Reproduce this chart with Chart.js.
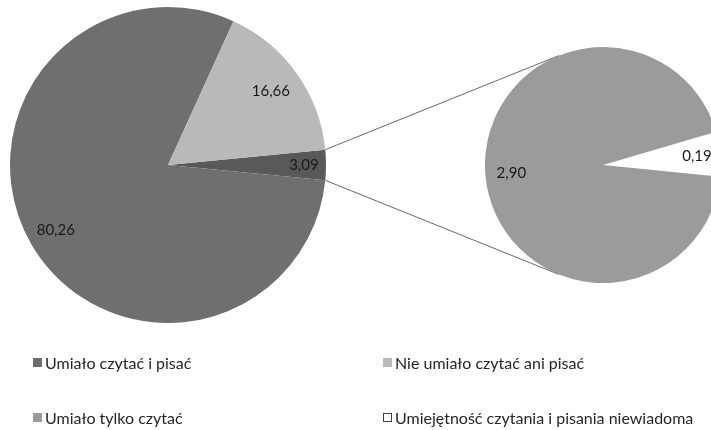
<!DOCTYPE html>
<html>
<head>
<meta charset="utf-8">
<script src="https://cdn.jsdelivr.net/npm/chart.js@4.4.1/dist/chart.umd.min.js"></script>
<style>
  html, body { margin: 0; padding: 0; background: #fff; }
  #wrap { position: relative; width: 711px; height: 430px; overflow: hidden; }
  #main { position: absolute; left: 0; top: 0; }
  #sub { position: absolute; left: 485px; top: 47px; }
  .leg { position: absolute; font: 16px Lato, "Open Sans", sans-serif; line-height: 20px; color: #262626; white-space: nowrap; }
  .leg i { position: absolute; top: 5px; width: 9px; height: 9px; box-sizing: border-box; }
</style>
</head>
<body>
<div id="wrap">
  <canvas id="main" width="711" height="430"></canvas>
  <canvas id="sub" width="236" height="236"></canvas>
  <div id="legend"></div>
</div>
<script>
// main pie: "other" slice first, then the two big ones (clockwise)
const mainLabels = ['Pozostałe', 'Umiało czytać i pisać', 'Nie umiało czytać ani pisać'];
const mainValues = [3.09, 80.26, 16.66];
const mainColors = ['#58595b', '#6d6f71', '#b8bab9'];

// second pie: breakdown of the 3,09 slice
const subLabels = ['Umiejętność czytania i pisania niewiadoma', 'Umiało tylko czytać'];
const subValues = [0.19, 2.90];
const subColors = ['#ffffff', '#999b9c'];

const legendItems = [
  { text: 'Umiało czytać i pisać', color: '#6d6f71', x: 45, y: 353 },
  { text: 'Nie umiało czytać ani pisać', color: '#b8bab9', x: 395, y: 353 },
  { text: 'Umiało tylko czytać', color: '#999b9c', x: 45, y: 408 },
  { text: 'Umiejętność czytania i pisania niewiadoma', color: '#ffffff', x: 395, y: 408 }
];

const fmt = v => v.toFixed(2).replace('.', ',');

// value labels inside slices
const sliceLabels = {
  id: 'sliceLabels',
  afterDatasetsDraw(chart, args, opts) {
    const c = chart.ctx;
    const meta = chart.getDatasetMeta(0);
    c.save();
    c.font = '15px Lato, "Open Sans", sans-serif';
    c.fillStyle = '#1a1a1a';
    c.textAlign = 'center';
    c.textBaseline = 'middle';
    meta.data.forEach((arc, i) => {
      const mid = (arc.startAngle + arc.endAngle) / 2;
      const r = arc.outerRadius * opts.frac[i];
      c.fillText(fmt(chart.data.datasets[0].data[i]), arc.x + Math.cos(mid) * r, arc.y + Math.sin(mid) * r);
    });
    c.restore();
  }
};

function pieOpts(rotation, padding, frac) {
  return {
    responsive: false,
    animation: false,
    rotation: rotation,
    layout: { padding: padding },
    plugins: {
      legend: { display: false },
      tooltip: { enabled: false },
      sliceLabels: { frac: frac }
    }
  };
}

const subTotal = subValues.reduce((s, v) => s + v, 0);
const subChart = new Chart(document.getElementById('sub'), {
  type: 'pie',
  data: { labels: subLabels, datasets: [{ data: subValues, backgroundColor: subColors, borderWidth: 0 }] },
  options: pieOpts(84.7 - subValues[0] / subTotal * 180, 0, [0.8, 0.78]),
  plugins: [sliceLabels]
});

// lines from the small slice to tangents of the second pie
const connectors = {
  id: 'connectors',
  afterDatasetsDraw(chart) {
    const arc = chart.getDatasetMeta(0).data[0];
    const sArc = subChart.getDatasetMeta(0).data[0];
    const sub = document.getElementById('sub');
    const cx = sub.offsetLeft + sArc.x, cy = sub.offsetTop + sArc.y, R = sArc.outerRadius;
    const c = chart.ctx;
    c.save();
    c.strokeStyle = '#404040';
    c.lineWidth = 0.8;
    [[arc.startAngle, -1], [arc.endAngle, 1]].forEach(([a, side]) => {
      const px = arc.x + Math.cos(a) * arc.outerRadius;
      const py = arc.y + Math.sin(a) * arc.outerRadius;
      const dx = px - cx, dy = py - cy;
      const d = Math.hypot(dx, dy);
      const t = Math.atan2(dy, dx) - side * Math.acos(R / d);
      c.beginPath();
      c.moveTo(px, py);
      c.lineTo(cx + Math.cos(t) * R, cy + Math.sin(t) * R);
      c.stroke();
    });
    c.restore();
  }
};

const mainTotal = mainValues.reduce((s, v) => s + v, 0);
new Chart(document.getElementById('main'), {
  type: 'pie',
  data: { labels: mainLabels, datasets: [{ data: mainValues, backgroundColor: mainColors, borderWidth: 0 }] },
  options: pieOpts(90 - mainValues[0] / mainTotal * 180, { left: 10, top: 7, right: 385, bottom: 107 }, [0.86, 0.82, 0.8]),
  plugins: [sliceLabels, connectors]
});

const leg = document.getElementById('legend');
legendItems.forEach(it => {
  const d = document.createElement('div');
  d.className = 'leg';
  d.style.left = it.x + 'px';
  d.style.top = it.y + 'px';
  d.innerHTML = '<i style="left:-12px;background:' + it.color + ';border:' + (it.color === '#ffffff' ? '1px solid #404040' : 'none') + '"></i>' + it.text;
  leg.appendChild(d);
});
</script>
</body>
</html>
